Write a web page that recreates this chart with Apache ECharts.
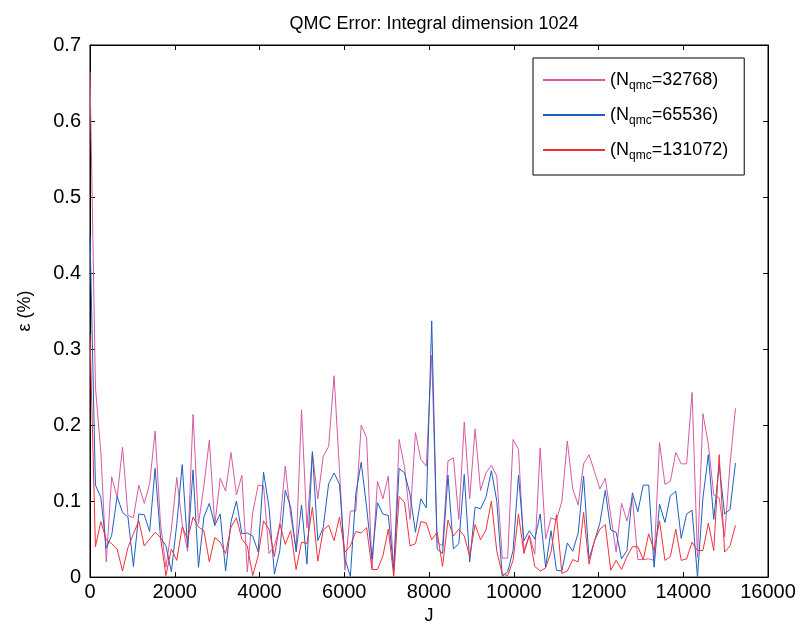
<!DOCTYPE html>
<html>
<head>
<meta charset="utf-8">
<script src="https://cdn.jsdelivr.net/npm/echarts@6/dist/echarts.min.js"></script>
<style>
  html, body { margin: 0; padding: 0; background: #fff; }
  #chart { width: 801px; height: 630px; }
</style>
</head>
<body>
<div id="chart"></div>
<script>
// J runs in steps of 128 (120 samples)
const jStep = 128;

const err32768 = [
  0.665, 0.25, 0.164, 0.02, 0.132, 0.105, 0.171, 0.081, 0.078, 0.121,
  0.097, 0.123, 0.192, 0.07, 0.013, 0.063, 0.131, 0.07, 0.034, 0.214,
  0.07, 0.12, 0.18, 0.068, 0.13, 0.113, 0.164, 0.108, 0.134, 0.007,
  0.085, 0.121, 0.12, 0.031, 0.041, 0.068, 0.146, 0.081, 0.037, 0.22,
  0.065, 0.164, 0.103, 0.159, 0.172, 0.265, 0.14, 0.009, 0.087, 0.087,
  0.2, 0.183, 0.011, 0.126, 0.103, 0.133, 0.005, 0.181, 0.144, 0.076,
  0.19, 0.155, 0.146, 0.292, 0.046, 0.041, 0.153, 0.157, 0.076, 0.204,
  0.103, 0.195, 0.114, 0.137, 0.147, 0.133, 0.025, 0.025, 0.181, 0.168,
  0.035, 0.055, 0.03, 0.17, 0.05, 0.078, 0.075, 0.10, 0.179, 0.116,
  0.095, 0.149, 0.161, 0.139, 0.116, 0.13, 0.081, 0.033, 0.097, 0.074,
  0.105, 0.023, 0.023, 0.024, 0.022, 0.177, 0.122, 0.126, 0.164, 0.149,
  0.149, 0.243, 0.026, 0.215, 0.175, 0.108, 0.104, 0.053, 0.149, 0.222
];

const err65536 = [
  0.45, 0.121, 0.105, 0.038, 0.055, 0.106, 0.085, 0.079, 0.014, 0.083,
  0.082, 0.06, 0.143, 0.052, 0.041, 0.007, 0.07, 0.148, 0.039, 0.141,
  0.013, 0.079, 0.097, 0.068, 0.083, 0.008, 0.073, 0.10, 0.057, 0.058,
  0.054, 0.033, 0.138, 0.092, 0.004, 0.035, 0.114, 0.092, 0.033, 0.095,
  0.017, 0.165, 0.048, 0.065, 0.123, 0.137, 0.122, 0.024, 0.001, 0.109,
  0.151, 0.092, 0.024, 0.098, 0.083, 0.081, 0.011, 0.143, 0.137, 0.109,
  0.059, 0.103, 0.091, 0.337, 0.037, 0.031, 0.134, 0.037, 0.044, 0.135,
  0.02, 0.092, 0.09, 0.105, 0.14, 0.1, 0.001, 0.007, 0.035, 0.134,
  0.048, 0.061, 0.05, 0.083, 0.013, 0.061, 0.009, 0.008, 0.045, 0.034,
  0.058, 0.133, 0.024, 0.047, 0.071, 0.114, 0.062, 0.059, 0.024, 0.035,
  0.111, 0.086, 0.121, 0.121, 0.013, 0.096, 0.072, 0.107, 0.113, 0.051,
  0.083, 0.088, 0.0, 0.104, 0.161, 0.076, 0.148, 0.083, 0.089, 0.15
];

const err131072 = [
  0.32, 0.04, 0.073, 0.049, 0.044, 0.037, 0.008, 0.039, 0.057, 0.074,
  0.041, 0.05, 0.059, 0.052, 0.002, 0.037, 0.022, 0.066, 0.05, 0.079,
  0.066, 0.061, 0.02, 0.052, 0.046, 0.031, 0.066, 0.078, 0.05, 0.041,
  0.002, 0.028, 0.074, 0.063, 0.027, 0.07, 0.043, 0.061, 0.01, 0.046,
  0.044, 0.092, 0.021, 0.062, 0.068, 0.048, 0.079, 0.033, 0.041, 0.06,
  0.058, 0.065, 0.01, 0.01, 0.028, 0.063, 0.001, 0.106, 0.098, 0.041,
  0.044, 0.073, 0.071, 0.049, 0.059, 0.014, 0.075, 0.054, 0.063, 0.054,
  0.027, 0.069, 0.049, 0.062, 0.1, 0.034, 0.004, 0.002, 0.022, 0.083,
  0.031, 0.055, 0.014, 0.008, 0.012, 0.033, 0.082, 0.005, 0.008, 0.023,
  0.02, 0.085, 0.017, 0.048, 0.063, 0.069, 0.009, 0.022, 0.01, 0.027,
  0.04, 0.04, 0.023, 0.057, 0.035, 0.074, 0.022, 0.027, 0.063, 0.022,
  0.024, 0.046, 0.035, 0.035, 0.071, 0.035, 0.161, 0.033, 0.041, 0.068
];

const seriesNames = ['32768', '65536', '131072'];
const seriesColors = ['#d65aa6', '#1f5fbf', '#f2303c'];
const seriesData = [err32768, err65536, err131072];

const font = '"Liberation Sans", Arial, Helvetica, sans-serif';

function pairs(arr) {
  return arr.map((v, i) => [i * jStep, v]);
}

const chart = echarts.init(document.getElementById('chart'));

const tickStyle = { show: true, inside: true, length: 5, lineStyle: { color: '#000', width: 1 } };
const lineStyle = { show: true, onZero: false, lineStyle: { color: '#000', width: 1 } };

const option = {
  backgroundColor: '#fff',
  animation: false,
  title: {
    text: 'QMC Error: Integral dimension 1024',
    left: 429,
    top: 10,
    textAlign: 'center',
    textStyle: { fontFamily: font, fontSize: 18, fontWeight: 'normal', color: '#000' }
  },
  grid: { left: 90, right: 33, top: 45, bottom: 50, show: true, borderColor: '#000', borderWidth: 1, backgroundColor: 'transparent' },
  legend: {
    orient: 'vertical',
    left: 533,
    top: 58,
    padding: [13, 16, 13, 9],
    itemGap: 14,
    itemWidth: 62,
    itemHeight: 20,
    borderColor: '#000',
    borderWidth: 1,
    backgroundColor: '#fff',
    itemStyle: { opacity: 0 },
    data: seriesNames,
    formatter: n => '(N{sub|qmc}=' + n + ')',
    textStyle: {
      fontFamily: font, fontSize: 18, color: '#000',
      rich: {
        sub: { fontFamily: font, fontSize: 12, color: '#000', verticalAlign: 'bottom', padding: [12, 0, 0, 0] }
      }
    }
  },
  xAxis: [
    {
      type: 'value', min: 0, max: 16000, interval: 2000,
      name: 'J', nameLocation: 'middle', nameGap: 27,
      nameTextStyle: { fontFamily: font, fontSize: 18, color: '#000' },
      axisLine: lineStyle, axisTick: tickStyle,
      axisLabel: { fontFamily: font, fontSize: 20, color: '#000', margin: 5, formatter: v => String(v) },
      splitLine: { show: false }
    },
    {
      type: 'value', show: true, position: 'top', min: 0, max: 16000, interval: 2000,
      axisLine: lineStyle, axisTick: tickStyle,
      axisLabel: { show: false }, splitLine: { show: false }
    }
  ],
  yAxis: [
    {
      type: 'value', min: 0, max: 0.7, interval: 0.1,
      name: 'ε (%)', nameLocation: 'middle', nameGap: 56, nameRotate: 90,
      nameTextStyle: { fontFamily: font, fontSize: 18, color: '#000' },
      axisLine: lineStyle, axisTick: tickStyle,
      axisLabel: { fontFamily: font, fontSize: 20, color: '#000', margin: 9, formatter: v => String(Math.round(v * 10) / 10) },
      splitLine: { show: false }
    },
    {
      type: 'value', show: true, position: 'right', min: 0, max: 0.7, interval: 0.1,
      axisLine: lineStyle, axisTick: tickStyle,
      axisLabel: { show: false }, splitLine: { show: false }
    }
  ],
  series: seriesNames.map((n, k) => ({
    name: n,
    type: 'line',
    data: pairs(seriesData[k]),
    symbol: 'none',
    showSymbol: false,
    color: seriesColors[k],
    lineStyle: { color: seriesColors[k], width: 1 },
    z: 2 + k
  }))
};

chart.setOption(option);
</script>
</body>
</html>
